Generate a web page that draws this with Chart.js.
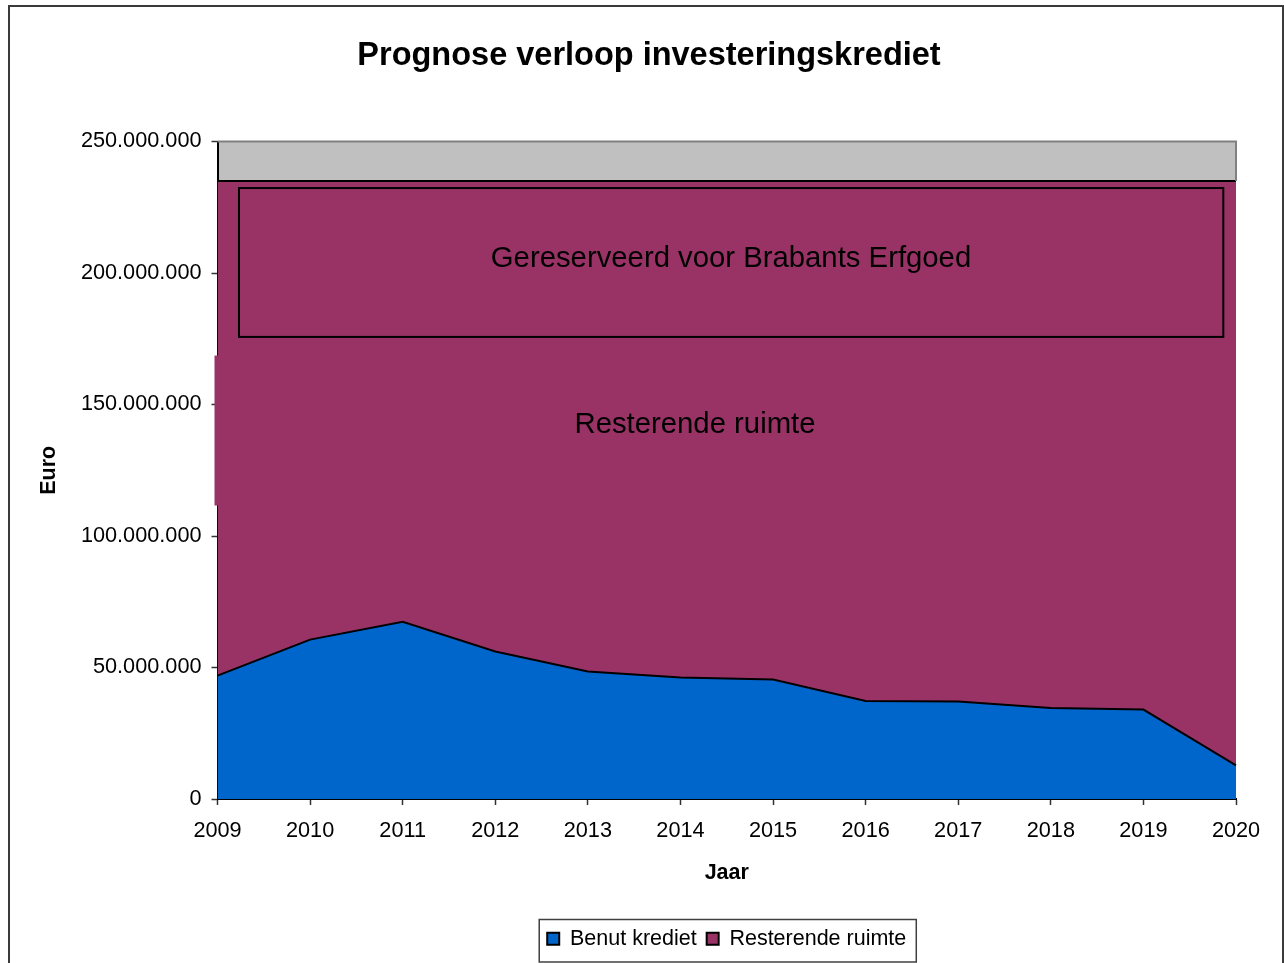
<!DOCTYPE html>
<html>
<head>
<meta charset="utf-8">
<script src="https://cdn.jsdelivr.net/npm/chart.js@4/dist/chart.umd.min.js"></script>
<style>
  html, body { margin: 0; padding: 0; background: #fff; }
  #wrap { width: 1284px; height: 963px; }
</style>
</head>
<body>
<div id="wrap"><canvas id="myChart"></canvas></div>
<script>
const jaren = ['2009', '2010', '2011', '2012', '2013', '2014', '2015', '2016', '2017', '2018', '2019', '2020']
const benutKrediet = [46900000, 60600000, 67400000, 56100000, 48500000, 46200000, 45400000, 37300000, 37100000, 34600000, 34000000, 12800000]
const totaalKrediet = 235000000
const resterendeRuimte = benutKrediet.map(v => totaalKrediet - v)

const titel = 'Prognose verloop investeringskrediet'
const FONT = '"Liberation Sans", Arial, sans-serif'

function formatEuro (v) {
    return String(v).replace(/\B(?=(\d{3})+(?!\d))/g, '.')
}

// frame, title, plot background, reserved box and labels
const decorPlugin = {
    id: 'decor',
    beforeDraw (chart) {
        const ctx = chart.ctx
        const a = chart.chartArea
        ctx.save()
        ctx.fillStyle = '#ffffff'
        ctx.fillRect(0, 0, chart.width, chart.height)
        ctx.strokeStyle = '#3a3a3a'
        ctx.lineWidth = 2
        ctx.strokeRect(9, 6, 1274, 1000)
        ctx.fillStyle = '#C0C0C0'
        ctx.fillRect(a.left, a.top, a.right - a.left, a.bottom - a.top)

        ctx.fillStyle = '#000'
        ctx.font = 'bold 32.5px ' + FONT
        ctx.textAlign = 'center'
        ctx.textBaseline = 'middle'
        ctx.fillText(titel, 649, 56)
        ctx.restore()
    },
    afterDraw (chart) {
        const ctx = chart.ctx
        const a = chart.chartArea
        const x = chart.scales.x
        const y = chart.scales.y
        ctx.save()
        // grey top and right border of the plot
        ctx.strokeStyle = '#808080'
        ctx.lineWidth = 2
        ctx.beginPath()
        ctx.moveTo(a.left, a.top)
        ctx.lineTo(a.right, a.top)
        ctx.lineTo(a.right, y.getPixelForValue(totaalKrediet))
        ctx.stroke()

        // "Gereserveerd" box
        const bx1 = x.getPixelForValue(0.232), bx2 = x.getPixelForValue(10.863)
        const by1 = y.getPixelForValue(232300000), by2 = y.getPixelForValue(175700000)
        ctx.strokeStyle = '#000'
        ctx.lineWidth = 2
        ctx.strokeRect(bx1, by1, bx2 - bx1, by2 - by1)

        ctx.fillStyle = '#000'
        ctx.font = '29.3px ' + FONT
        ctx.textAlign = 'center'
        ctx.textBaseline = 'middle'
        ctx.fillText('Gereserveerd voor Brabants Erfgoed', x.getPixelForValue(5.546), y.getPixelForValue(205400000))
        ctx.fillText('Resterende ruimte', x.getPixelForValue(5.157), y.getPixelForValue(142300000))

        // purple patch over the axis line, as in the original
        ctx.fillStyle = '#993366'
        const py1 = y.getPixelForValue(168600000), py2 = y.getPixelForValue(111600000)
        ctx.fillRect(a.left - 3, py1, 5, py2 - py1)

        // legend border
        const hb = chart.legend.legendHitBoxes
        if (hb && hb.length) {
            const l = Math.min(...hb.map(h => h.left)) - 8
            const r = Math.max(...hb.map(h => h.left + h.width)) + 10
            const t = hb[0].top - 8.5
            ctx.strokeStyle = '#404040'
            ctx.lineWidth = 1.5
            ctx.strokeRect(l, t, r - l, hb[0].height + 21)
        }
        ctx.restore()
    }
}

const chartContext = document.getElementById('myChart').getContext('2d')
const myChart = new Chart(chartContext, {
    type: 'line',
    data: {
        labels: jaren,
        datasets: [
            {
                label: 'Benut krediet',
                data: benutKrediet,
                backgroundColor: '#0066CC',
                borderColor: '#000000',
                borderWidth: 2,
                pointRadius: 0,
                fill: 'origin',
                tension: 0
            },
            {
                label: 'Resterende ruimte',
                data: resterendeRuimte,
                backgroundColor: '#993366',
                borderColor: '#000000',
                borderWidth: 2,
                pointRadius: 0,
                fill: '-1',
                tension: 0
            }
        ]
    },
    options: {
        responsive: true,
        maintainAspectRatio: false,
        animation: false,
        layout: { padding: { left: 10, right: 48, top: 141.5, bottom: 3.5 } },
        plugins: {
            title: { display: false },
            legend: {
                position: 'bottom',
                fullSize: false,
                labels: {
                    color: '#000',
                    font: { family: FONT, size: 21.5 },
                    boxWidth: 12,
                    boxHeight: 12,
                    padding: 10
                }
            },
            tooltip: { enabled: false }
        },
        scales: {
            x: {
                offset: false,
                grid: { display: true, drawOnChartArea: false, color: '#333', tickLength: 6, tickWidth: 1.5 },
                border: { color: '#000', width: 2 },
                ticks: { color: '#000', font: { family: FONT, size: 21.7 }, padding: 13, maxRotation: 0, autoSkip: false },
                title: {
                    display: true,
                    text: 'Jaar',
                    color: '#000',
                    font: { family: FONT, size: 21.5, weight: 'bold' },
                    padding: { top: 0, bottom: 32 }
                },
                afterFit: s => { s.height = 119 }
            },
            y: {
                stacked: true,
                min: 0,
                max: 250000000,
                grid: { display: true, drawOnChartArea: false, color: '#333', tickLength: 6, tickWidth: 1.5 },
                border: { color: '#000', width: 2 },
                ticks: {
                    stepSize: 50000000,
                    color: '#000',
                    font: { family: FONT, size: 21.7 },
                    padding: 10,
                    callback: v => formatEuro(v)
                },
                title: {
                    display: true,
                    text: 'Euro',
                    color: '#000',
                    font: { family: FONT, size: 21.5, weight: 'bold' },
                    padding: { top: 26, bottom: 0 }
                },
                afterFit: s => { s.width = 207.5 }
            }
        }
    },
    plugins: [decorPlugin]
})
</script>
</body>
</html>
